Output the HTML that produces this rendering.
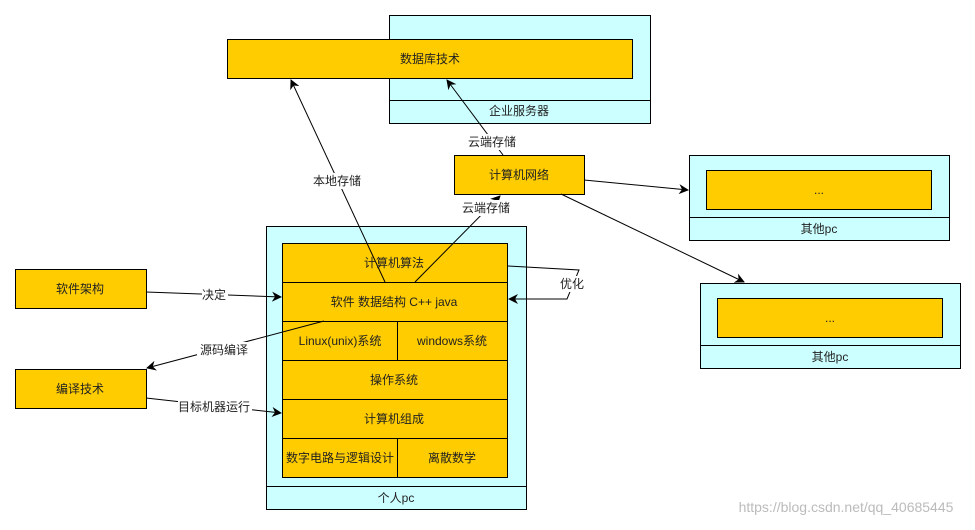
<!DOCTYPE html>
<html><head><meta charset="utf-8"><style>
body{margin:0;width:975px;height:525px;background:#fff;overflow:hidden;font-family:"Liberation Sans","Noto Sans CJK SC",sans-serif;}
svg text{font-family:"Liberation Sans","Noto Sans CJK SC",sans-serif;font-size:12px;text-anchor:middle;dominant-baseline:central;fill:#222;}
</style></head><body>
<svg width="975" height="525" viewBox="0 0 975 525">
<defs><marker id="a" markerWidth="10" markerHeight="10" refX="9" refY="5" orient="auto" markerUnits="userSpaceOnUse"><path d="M0,0 L10,5 L0,10 L3,5 Z" fill="#000"/></marker></defs>
<g stroke="#000" stroke-width="1">
<rect x="389.5" y="15.5" width="261" height="108" fill="#ccffff"/>
<line x1="389" y1="100.5" x2="650" y2="100.5"/>
<rect x="227.5" y="39.5" width="405" height="39" fill="#ffcc00"/>
<rect x="454.5" y="155.5" width="130" height="39" fill="#ffcc00"/>
<rect x="266.5" y="226.5" width="260" height="283" fill="#ccffff"/>
<line x1="266" y1="486.5" x2="526" y2="486.5"/>
<rect x="282.5" y="243.5" width="225" height="234" fill="#ffcc00"/>
<line x1="282" y1="282.5" x2="507" y2="282.5"/><line x1="282" y1="321.5" x2="507" y2="321.5"/>
<line x1="282" y1="360.5" x2="507" y2="360.5"/><line x1="282" y1="399.5" x2="507" y2="399.5"/>
<line x1="282" y1="438.5" x2="507" y2="438.5"/>
<line x1="397.5" y1="321" x2="397.5" y2="360"/><line x1="397.5" y1="438" x2="397.5" y2="477"/>
<rect x="15.5" y="269.5" width="131" height="39" fill="#ffcc00"/>
<rect x="15.5" y="369.5" width="131" height="39" fill="#ffcc00"/>
<rect x="689.5" y="155.5" width="260" height="85" fill="#ccffff"/>
<line x1="689" y1="217.5" x2="949" y2="217.5"/>
<rect x="706.5" y="170.5" width="225" height="39" fill="#ffcc00"/>
<rect x="700.5" y="283.5" width="260" height="85" fill="#ccffff"/>
<line x1="700" y1="345.5" x2="960" y2="345.5"/>
<rect x="717.5" y="298.5" width="225" height="39" fill="#ffcc00"/>
</g>
<g stroke="#000" stroke-width="1" fill="none">
<line x1="385" y1="282" x2="291" y2="80" marker-end="url(#a)"/>
<line x1="415" y1="282" x2="500" y2="196" marker-end="url(#a)"/>
<line x1="503" y1="155" x2="447" y2="80" marker-end="url(#a)"/>
<line x1="584" y1="180" x2="688" y2="190" marker-end="url(#a)"/>
<line x1="561" y1="194" x2="744" y2="282" marker-end="url(#a)"/>
<polyline points="507,266 579,270 567,299 509,299" marker-end="url(#a)"/>
<line x1="146" y1="292" x2="281" y2="297" marker-end="url(#a)"/>
<line x1="324" y1="321" x2="147" y2="368" marker-end="url(#a)"/>
<line x1="146" y1="398" x2="281" y2="413" marker-end="url(#a)"/>
</g>
<text x="430" y="59">数据库技术</text>
<text x="519" y="111">企业服务器</text>
<text x="519" y="175">计算机网络</text>
<text x="394" y="263">计算机算法</text>
<text x="394" y="302">软件 数据结构 C++ java</text>
<text x="340" y="341">Linux(unix)系统</text>
<text x="452" y="341">windows系统</text>
<text x="394" y="380">操作系统</text>
<text x="394" y="419">计算机组成</text>
<text x="340" y="458">数字电路与逻辑设计</text>
<text x="452" y="458">离散数学</text>
<text x="396" y="498">个人pc</text>
<text x="80" y="289">软件架构</text>
<text x="80" y="389">编译技术</text>
<text x="819" y="190">...</text>
<text x="819" y="229">其他pc</text>
<text x="830" y="318">...</text>
<text x="830" y="357">其他pc</text>
<g fill="#fff"><rect x="311" y="173" width="52" height="16"/><rect x="466" y="134" width="52" height="16"/><rect x="459" y="200" width="54" height="16"/><rect x="202" y="287" width="26" height="16"/><rect x="197" y="342" width="54" height="16"/><rect x="178" y="399" width="74" height="16"/><rect x="558" y="276" width="28" height="16"/></g>
<text x="337" y="181">本地存储</text>
<text x="492" y="142">云端存储</text>
<text x="486" y="208">云端存储</text>
<text x="214" y="295">决定</text>
<text x="224" y="350">源码编译</text>
<text x="214" y="407">目标机器运行</text>
<text x="572" y="284">优化</text>
<text x="846" y="507" style="fill:#bbb;font-size:14px">https://blog.csdn.net/qq_40685445</text>
</svg>
</body></html>
